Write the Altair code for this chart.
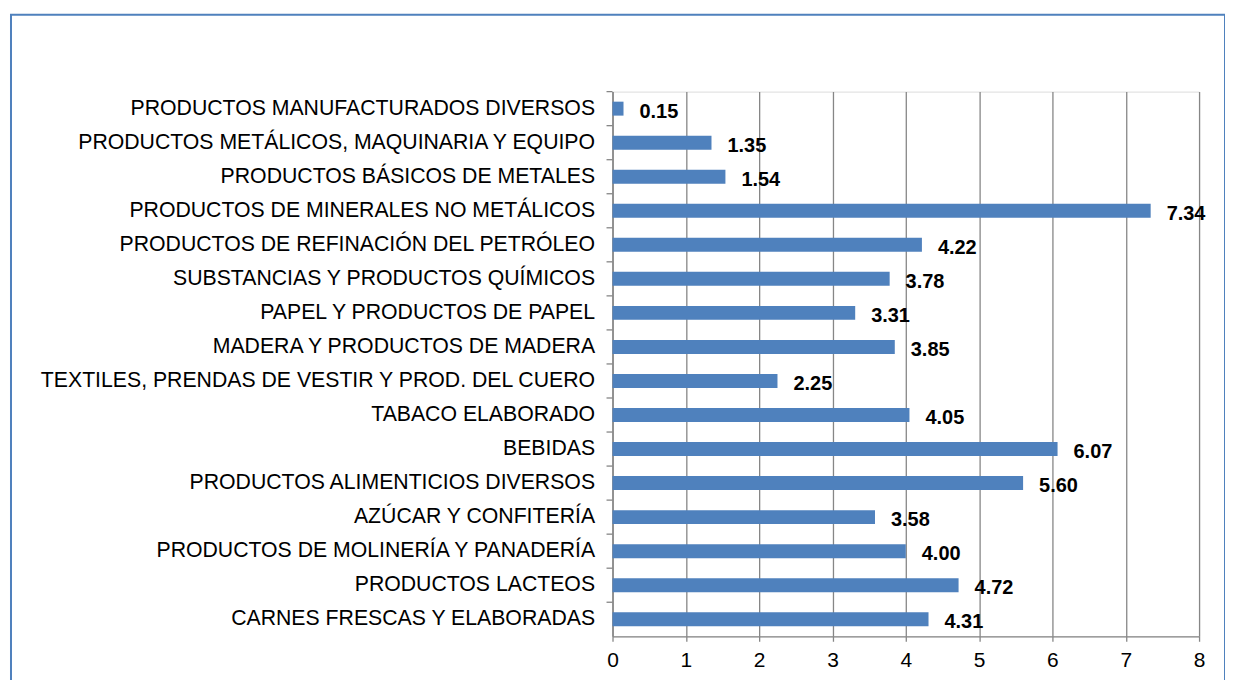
import altair as alt
import pandas as pd

categories = [
    "PRODUCTOS MANUFACTURADOS DIVERSOS",
    "PRODUCTOS METÁLICOS, MAQUINARIA Y EQUIPO",
    "PRODUCTOS BÁSICOS DE METALES",
    "PRODUCTOS DE MINERALES NO METÁLICOS",
    "PRODUCTOS DE REFINACIÓN DEL PETRÓLEO",
    "SUBSTANCIAS Y PRODUCTOS QUÍMICOS",
    "PAPEL Y PRODUCTOS DE PAPEL",
    "MADERA Y PRODUCTOS DE MADERA",
    "TEXTILES, PRENDAS DE VESTIR Y PROD. DEL CUERO",
    "TABACO ELABORADO",
    "BEBIDAS",
    "PRODUCTOS ALIMENTICIOS DIVERSOS",
    "AZÚCAR Y CONFITERÍA",
    "PRODUCTOS DE MOLINERÍA Y PANADERÍA",
    "PRODUCTOS LACTEOS",
    "CARNES FRESCAS Y ELABORADAS",
]
values = [0.15, 1.35, 1.54, 7.34, 4.22, 3.78, 3.31, 3.85, 2.25, 4.05, 6.07, 5.60, 3.58, 4.00, 4.72, 4.31]
x_ticks = [0, 1, 2, 3, 4, 5, 6, 7, 8]

df = pd.DataFrame({"cat": categories, "val": values})

FONT = "Liberation Sans"
GRID = "#868686"

x_enc = alt.X(
    "val:Q",
    scale=alt.Scale(domain=[0, 8], nice=False),
    axis=alt.Axis(
        title=None, values=x_ticks, format="d", grid=True, gridColor=GRID, gridWidth=1.3,
        domainColor=GRID, domainWidth=1.3, tickColor=GRID, tickWidth=1.3, tickSize=5,
        labelFont=FONT, labelFontSize=21, labelColor="#000000", labelPadding=8,
        labelFlush=False,
    ),
)
y_enc = alt.Y(
    "cat:N", sort=categories, scale=alt.Scale(paddingInner=0, paddingOuter=0),
    axis=alt.Axis(
        title=None, ticks=False, domainColor=GRID, domainWidth=1.3,
        labelFont=FONT, labelFontSize=21.3, labelColor="#000000", labelPadding=18,
        labelLimit=800,
    ),
)

bars = alt.Chart(df).mark_bar(color="#4F81BD", height={"band": 0.41}).encode(x=x_enc, y=y_enc)

labels = alt.Chart(df).mark_text(
    align="left", baseline="middle", dx=16, dy=3, font=FONT, fontSize=20,
    fontWeight="bold", color="#000000",
).encode(x="val:Q", y=alt.Y("cat:N", sort=categories), text=alt.Text("val:Q", format=".2f"))

ticks = alt.Chart(df).mark_rule(color=GRID, strokeWidth=1.3).encode(
    y=alt.Y("cat:N", sort=categories, bandPosition=0),
    x=alt.value(-6), x2=alt.value(0),
)

border = alt.Chart(pd.DataFrame({"a": [0]})).mark_rect(
    fillOpacity=0, stroke="#4F81BD", strokeWidth=2,
).encode(x=alt.value(-603), x2=alt.value(614), y=alt.value(-77), y2=alt.value(700))

chart = alt.layer(bars, ticks, labels, border).properties(
    width=588, height=546,
    autosize=alt.AutoSizeParams(type="none"),
    padding={"left": 606, "top": 83, "right": 26, "bottom": 43},
).configure_view(stroke=None).configure(background="white")

chart.save("out.html", embed_options={"renderer": "svg", "actions": False})
